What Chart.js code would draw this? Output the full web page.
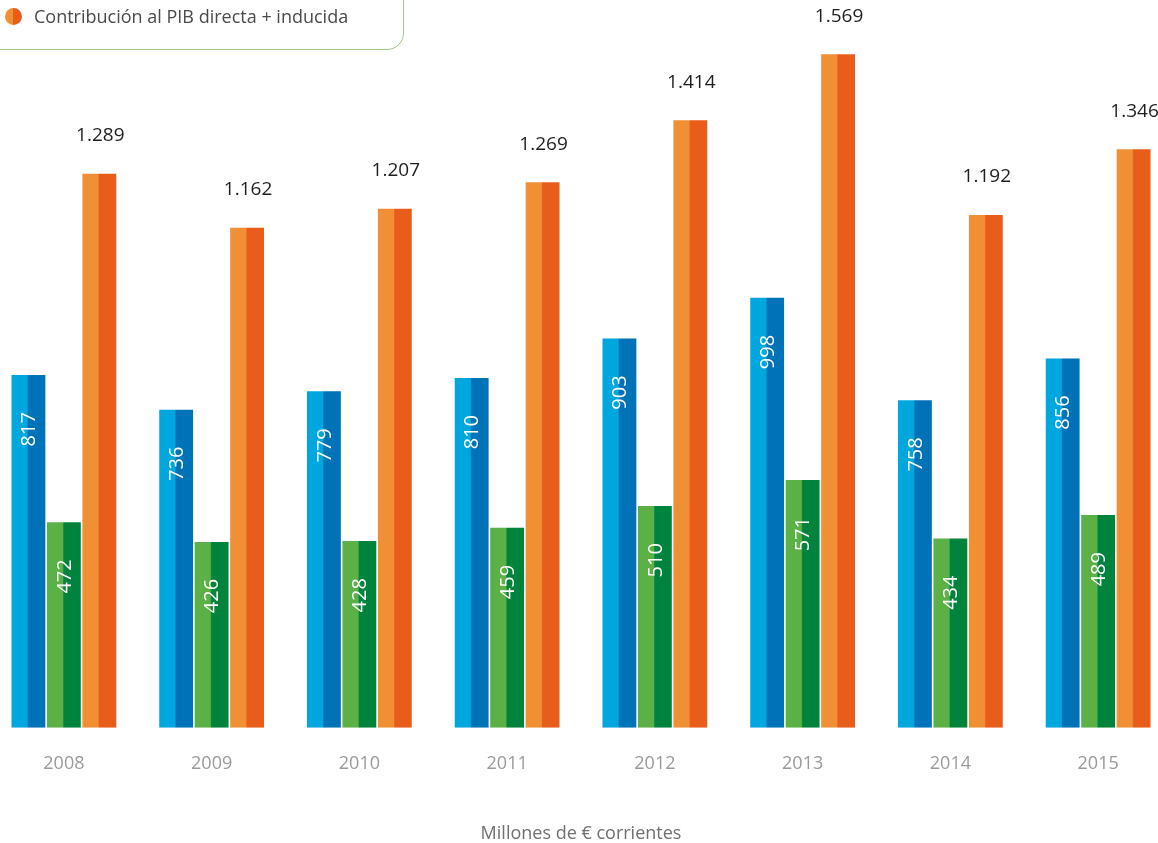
<!DOCTYPE html>
<html>
<head>
<meta charset="utf-8">
<script src="https://cdn.jsdelivr.net/npm/chart.js@4.4.1/dist/chart.umd.min.js"></script>
<style>
  html, body { margin: 0; padding: 0; background: #fff; width: 1158px; height: 843px; overflow: hidden; position: relative; font-family: "Open Sans", sans-serif; }
  #wrap { position: absolute; left: -10px; top: 0; width: 1182px; height: 843px; }
  #legend { position: absolute; left: -20px; top: -20px; width: 424px; height: 70px; border: 1.6px solid #a3c585; border-radius: 0 0 17px 0; box-sizing: border-box; }
  #legend .dot { position: absolute; left: 24px; top: 27px; width: 17px; height: 17px; border-radius: 50%; background: linear-gradient(90deg, #f08f34 0%, #f08f34 50%, #e85d1a 50%, #e85d1a 100%); }
  #legend .txt { position: absolute; left: 53px; top: 23px; font-size: 18px; color: #4a4a4a; white-space: nowrap; line-height: 24px; }
</style>
</head>
<body>
<div id="wrap"><canvas id="c" width="1182" height="843"></canvas></div>
<div id="legend"><div class="dot"></div><div class="txt">Contribución al PIB directa + inducida</div></div>
<script>
const years = ["2008", "2009", "2010", "2011", "2012", "2013", "2014", "2015"];
const directa = [817, 736, 779, 810, 903, 998, 758, 856];
const inducida = [472, 426, 428, 459, 510, 571, 434, 489];
const total = [1289, 1162, 1207, 1269, 1414, 1569, 1192, 1346];
const axisTitle = "Millones de € corrientes";

const palettes = [
  ["#00a6de", "#0072b8"],
  ["#5bb146", "#00843d"],
  ["#f08f34", "#e85d1a"]
];

const CAT_PCT = 0.72, BAR_PCT = 0.955;
const Y_MIN = -9.6, Y_MAX = 1696;

function fmt(v) {
  return String(v).replace(/\B(?=(\d{3})+(?!\d))/g, ".");
}

function twoTone(context) {
  const chart = context.chart;
  const xs = chart.scales.x;
  const di = context.datasetIndex;
  const [light, dark] = palettes[di];
  if (!xs || context.dataIndex === undefined || !isFinite(xs.width)) return light;
  const cat = xs.width / chart.data.labels.length;
  const slot = cat * CAT_PCT / 3;
  const cx = xs.getPixelForValue(context.dataIndex) + (di - 1) * slot;
  const w = slot * BAR_PCT;
  const g = chart.ctx.createLinearGradient(cx - w / 2, 0, cx + w / 2, 0);
  g.addColorStop(0, light);
  g.addColorStop(0.46, light);
  g.addColorStop(0.5, dark);
  g.addColorStop(0.56, dark);
  g.addColorStop(1, dark);
  return g;
}

const labelPlugin = {
  id: "valueLabels",
  afterDatasetsDraw(chart) {
    const ctx = chart.ctx;
    ctx.save();
    [0, 1].forEach(di => {
      const meta = chart.getDatasetMeta(di);
      meta.data.forEach((el, i) => {
        ctx.save();
        ctx.translate(el.x + 1, el.y + 37);
        ctx.rotate(-Math.PI / 2);
        ctx.fillStyle = "#ffffff";
        ctx.font = "20px 'Open Sans', sans-serif";
        ctx.textAlign = "right";
        ctx.textBaseline = "middle";
        ctx.fillText(String(chart.data.datasets[di].data[i]), 0, 0);
        ctx.restore();
      });
    });
    const meta = chart.getDatasetMeta(2);
    meta.data.forEach((el, i) => {
      ctx.fillStyle = "#1e1e1e";
      ctx.font = "19px 'Open Sans', sans-serif";
      ctx.textAlign = "center";
      ctx.textBaseline = "middle";
      ctx.fillText(fmt(chart.data.datasets[2].data[i]), el.x + 1, el.y - 38);
    });
    ctx.restore();
  }
};

new Chart(document.getElementById("c"), {
  type: "bar",
  data: {
    labels: years,
    datasets: [
      { label: "Contribución al PIB directa", data: directa, backgroundColor: twoTone, base: Y_MIN },
      { label: "Contribución al PIB inducida", data: inducida, backgroundColor: twoTone, base: Y_MIN },
      { label: "Contribución al PIB directa + inducida", data: total, backgroundColor: twoTone, base: Y_MIN }
    ]
  },
  options: {
    responsive: false,
    animation: false,
    events: [],
    layout: { padding: { top: 0, bottom: 0, left: 0, right: 0 } },
    datasets: {
      bar: { categoryPercentage: CAT_PCT, barPercentage: BAR_PCT, borderWidth: 0 }
    },
    plugins: { legend: { display: false }, tooltip: { enabled: false }, colors: { enabled: false } },
    scales: {
      x: {
        grid: { display: false },
        border: { display: false },
        ticks: { color: "#9a9a9a", font: { family: "'Open Sans', sans-serif", size: 18 }, padding: 17 },
        title: { display: true, text: axisTitle, color: "#707070", font: { family: "'Open Sans', sans-serif", size: 18 }, padding: { top: 32, bottom: -2 } }
      },
      y: {
        display: false,
        min: Y_MIN,
        max: Y_MAX
      }
    }
  },
  plugins: [labelPlugin]
});
</script>
</body>
</html>
